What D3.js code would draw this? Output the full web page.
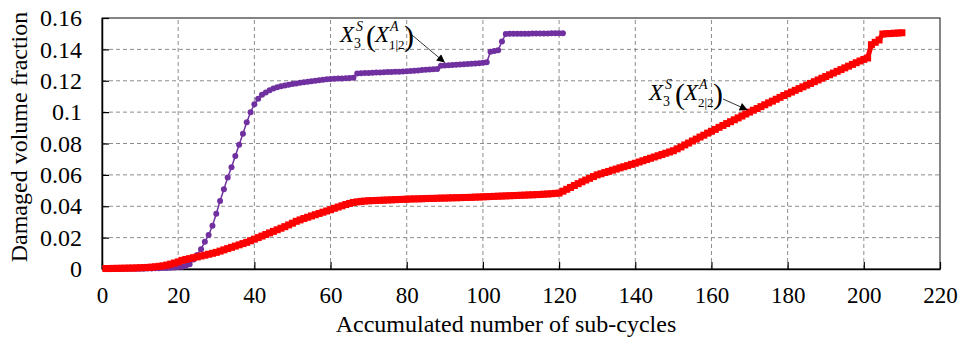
<!DOCTYPE html>
<html>
<head>
<meta charset="utf-8">
<script src="https://cdn.jsdelivr.net/npm/d3@7"></script>
<style>
  body { margin: 0; background: white; }
  svg { display: block; }
  svg text { font-family: "Liberation Serif", "Times New Roman", "DejaVu Serif", serif; }
</style>
</head>
<body>
<div id="chart"></div>
<script>
// Damaged volume fraction vs accumulated sub-cycles
const width = 958
const height = 337

let padding = { top: 18, right: 18, bottom: 68, left: 102 }

let purple = "#7030a0",
    red = "#ff0000",
    gridColor = "#8c8c8c",
    serif = "'Liberation Serif', 'Times New Roman', serif"

const xTicks = [0, 20, 40, 60, 80, 100, 120, 140, 160, 180, 200, 220]
const yTicks = [0, 0.02, 0.04, 0.06, 0.08, 0.1, 0.12, 0.14, 0.16]

// X3S(X1|2A) : sub-cycles 1..121
const purpleValues = [
    0, 0, 0, 0, 0, 0.0001, 0.0001, 0.0001, 0.0002, 0.0002,
    0.0002, 0.0003, 0.0003, 0.0004, 0.0005, 0.0006, 0.0007, 0.0008, 0.001, 0.0012,
    0.0015, 0.002, 0.003, 0.006, 0.009,
    0.0126, 0.0174, 0.0217, 0.0276, 0.0352, 0.0433, 0.0508, 0.0584, 0.0648, 0.0720,
    0.0792, 0.0862, 0.0935, 0.0999, 0.1050, 0.1085,
    0.1110, 0.1125, 0.1140, 0.1150, 0.1158, 0.1165, 0.1170, 0.1175, 0.1179, 0.1183,
    0.1187, 0.1190, 0.1194, 0.1197, 0.1200, 0.1203, 0.1206, 0.1209, 0.1211, 0.1213,
    0.1214, 0.1215, 0.1216, 0.1217, 0.1219,
    0.1247, 0.1248, 0.1249, 0.1250, 0.1251, 0.1252, 0.1253, 0.1254, 0.1255, 0.1256,
    0.1257, 0.1258, 0.1259, 0.1260, 0.1262, 0.1264, 0.1266, 0.1268, 0.1270, 0.1272,
    0.1273, 0.1275,
    0.1296, 0.1297, 0.1299, 0.1300, 0.1302, 0.1303, 0.1305, 0.1306, 0.1308, 0.1310,
    0.1312, 0.1314, 0.1318,
    0.1385, 0.1390, 0.1395, 0.1450, 0.1498,
    0.1499, 0.1499, 0.1500, 0.1500, 0.1500, 0.1500, 0.1501, 0.1501, 0.1501, 0.1501,
    0.1501, 0.1502, 0.1502, 0.1502, 0.1502
]

// X3S(X2|2A) : sub-cycles 1..210
const redValues = [
    0.0003, 0.0003, 0.0004, 0.0004, 0.0005, 0.0005, 0.0006, 0.0006, 0.0007, 0.0008,
    0.0009, 0.0010, 0.0012, 0.0014, 0.0017, 0.0020, 0.0025, 0.0031, 0.0038, 0.0045,
    0.0055, 0.0061, 0.0066, 0.0072, 0.0077, 0.0083, 0.0088, 0.0094, 0.0100, 0.0106,
    0.0114, 0.0122, 0.0130, 0.0138, 0.0146, 0.0154, 0.0162, 0.0170, 0.0180, 0.0190,
    0.0200, 0.0210, 0.0220, 0.0230, 0.0240, 0.0250, 0.0260, 0.0270, 0.0281, 0.0292,
    0.0304, 0.0313, 0.0322, 0.0330, 0.0338, 0.0346, 0.0354, 0.0362, 0.0370, 0.0378,
    0.0387, 0.0395, 0.0403, 0.0411, 0.0418, 0.0424, 0.0428, 0.0431, 0.0433, 0.0435,
    0.0436, 0.0437, 0.0438, 0.0439, 0.0440, 0.0441, 0.0442, 0.0443, 0.0444, 0.0445,
    0.0446, 0.0447, 0.0447, 0.0448, 0.0449, 0.0450, 0.0450, 0.0451, 0.0452, 0.0452,
    0.0453, 0.0454, 0.0454, 0.0455, 0.0456, 0.0456, 0.0457, 0.0458, 0.0459, 0.0460,
    0.0461, 0.0462, 0.0463, 0.0464, 0.0465, 0.0466, 0.0467, 0.0468, 0.0469, 0.0470,
    0.0471, 0.0472, 0.0473, 0.0474, 0.0475, 0.0477, 0.0478, 0.0480, 0.0482, 0.0484,
    0.0496, 0.0508, 0.0520, 0.0532, 0.0544, 0.0556, 0.0567, 0.0578, 0.0589, 0.0600,
    0.0607, 0.0615, 0.0622, 0.0630, 0.0637, 0.0645, 0.0652, 0.0659, 0.0667, 0.0674,
    0.0682, 0.0690, 0.0698, 0.0706, 0.0714, 0.0722, 0.0730, 0.0738, 0.0746, 0.0754,
    0.0766, 0.0778, 0.0791, 0.0803, 0.0816, 0.0828, 0.0841, 0.0853, 0.0866, 0.0878,
    0.0890, 0.0903, 0.0915, 0.0927, 0.0939, 0.0951, 0.0963, 0.0975, 0.0988, 0.1000,
    0.1012, 0.1023, 0.1035, 0.1047, 0.1059, 0.1070, 0.1082, 0.1094, 0.1106, 0.1117,
    0.1128, 0.1139, 0.1150, 0.1161, 0.1172, 0.1183, 0.1194, 0.1205, 0.1216, 0.1227,
    0.1238, 0.1249, 0.1260, 0.1271, 0.1282, 0.1293, 0.1304, 0.1315, 0.1326, 0.1336,
    0.1345, 0.1430, 0.1445, 0.1460, 0.1498, 0.1500, 0.1501, 0.1503, 0.1504, 0.1506
]

const purpleData = purpleValues.map((v, i) => ({ x: i + 1, y: v }))
const redData = redValues.map((v, i) => ({ x: i + 1, y: v }))

const svg = d3.select("#chart")
    .append("svg")
    .attr("width", width)
    .attr("height", height)
    .attr("font-family", serif)

let Xscale = d3.scaleLinear()
    .domain([0, 220])
    .range([padding.left, width - padding.right])

let Yscale = d3.scaleLinear()
    .domain([0, 0.16])
    .range([height - padding.bottom, padding.top])

// grid
svg.append("g")
    .selectAll("line")
    .data(xTicks.slice(1, -1))
    .enter()
    .append("line")
    .attr("x1", d => Xscale(d))
    .attr("x2", d => Xscale(d))
    .attr("y1", Yscale(0))
    .attr("y2", Yscale(0.16))
    .attr("stroke", gridColor)
    .attr("stroke-dasharray", "4,3")

svg.append("g")
    .selectAll("line")
    .data(yTicks.slice(1, -1))
    .enter()
    .append("line")
    .attr("x1", Xscale(0))
    .attr("x2", Xscale(220))
    .attr("y1", d => Yscale(d))
    .attr("y2", d => Yscale(d))
    .attr("stroke", gridColor)
    .attr("stroke-dasharray", "4,3")

// frame
svg.append("rect")
    .attr("x", Xscale(0))
    .attr("y", Yscale(0.16))
    .attr("width", Xscale(220) - Xscale(0))
    .attr("height", Yscale(0) - Yscale(0.16))
    .attr("fill", "none")
    .attr("stroke", "#333")
    .attr("stroke-width", 1.2)

let xAxis = d3.axisBottom(Xscale)
    .tickValues(xTicks)
    .tickSizeInner(-7)
    .tickSizeOuter(0)
    .tickPadding(18)

let yAxis = d3.axisLeft(Yscale)
    .tickValues(yTicks)
    .tickFormat(d => String(+d.toFixed(2)))
    .tickSizeInner(-7)
    .tickSizeOuter(0)
    .tickPadding(20)

svg.append("g").attr("id", "x-axis")
    .attr("transform", `translate(0,${Yscale(0)})`)
    .call(xAxis)
    .attr("font-family", serif)
    .attr("font-size", 23)

svg.append("g").attr("id", "y-axis")
    .attr("transform", `translate(${Xscale(0)},0)`)
    .call(yAxis)
    .attr("font-family", serif)
    .attr("font-size", 24)

svg.selectAll(".tick text").attr("fill", "black")
svg.selectAll(".tick line").attr("stroke", "black").attr("stroke-width", 1.2)
svg.selectAll(".domain").attr("stroke", "black").attr("stroke-width", 1.5)

// axis titles
svg.append("text")
    .attr("x", 506)
    .attr("y", 332)
    .attr("text-anchor", "middle")
    .attr("font-size", 24)
    .text("Accumulated number of sub-cycles")

svg.append("text")
    .attr("transform", `translate(27,137) rotate(-90)`)
    .attr("text-anchor", "middle")
    .attr("font-size", 24)
    .text("Damaged volume fraction")

// series
let line = d3.line()
    .x(d => Xscale(d.x))
    .y(d => Yscale(d.y))

svg.append("path")
    .datum(purpleData)
    .attr("d", line)
    .attr("fill", "none")
    .attr("stroke", purple)
    .attr("stroke-width", 1.5)

svg.append("g")
    .selectAll("circle")
    .data(purpleData)
    .enter()
    .append("circle")
    .attr("cx", d => Xscale(d.x))
    .attr("cy", d => Yscale(d.y))
    .attr("r", 3)
    .attr("fill", purple)

svg.append("path")
    .datum(redData)
    .attr("d", line)
    .attr("fill", "none")
    .attr("stroke", red)
    .attr("stroke-width", 5)

svg.append("g")
    .selectAll("rect")
    .data(redData)
    .enter()
    .append("rect")
    .attr("x", d => Xscale(d.x) - 3.5)
    .attr("y", d => Yscale(d.y) - 3.5)
    .attr("width", 7)
    .attr("height", 7)
    .attr("fill", red)

// annotations
svg.append("defs").append("marker")
    .attr("id", "arrow")
    .attr("viewBox", "0 0 10 10")
    .attr("refX", 10)
    .attr("refY", 5)
    .attr("markerWidth", 11)
    .attr("markerHeight", 8)
    .attr("markerUnits", "userSpaceOnUse")
    .attr("orient", "auto")
    .append("path")
    .attr("d", "M0,0 L10,5 L0,10 z")
    .attr("fill", "black")

function label(x, y, sub) {
    let g = svg.append("g").attr("transform", `translate(${x},${y})`)
    g.append("text").attr("x", 0).attr("y", 0).attr("font-size", 23).attr("font-style", "italic").text("X")
    g.append("text").attr("x", 14).attr("y", 6).attr("font-size", 14).text("3")
    g.append("text").attr("x", 16).attr("y", -11).attr("font-size", 14).attr("font-style", "italic").text("S")
    g.append("text").attr("x", 26).attr("y", 4).attr("font-size", 30).text("(")
    g.append("text").attr("x", 35).attr("y", 0).attr("font-size", 23).attr("font-style", "italic").text("X")
    g.append("text").attr("x", 50).attr("y", -11).attr("font-size", 14).attr("font-style", "italic").text("A")
    g.append("text").attr("x", 49).attr("y", 7).attr("font-size", 13).text(sub)
    g.append("text").attr("x", 64).attr("y", 4).attr("font-size", 30).text(")")
}

label(340, 42, "1|2")
svg.append("line")
    .attr("x1", 412).attr("y1", 35)
    .attr("x2", Xscale(90)).attr("y2", Yscale(purpleValues[89]) - 3)
    .attr("stroke", "black")
    .attr("stroke-width", 0.8)
    .attr("marker-end", "url(#arrow)")

label(649, 100, "2|2")
svg.append("line")
    .attr("x1", 723).attr("y1", 99)
    .attr("x2", Xscale(169.5)).attr("y2", Yscale(redValues[168]) - 4)
    .attr("stroke", "black")
    .attr("stroke-width", 0.8)
    .attr("marker-end", "url(#arrow)")
</script>
</body>
</html>
